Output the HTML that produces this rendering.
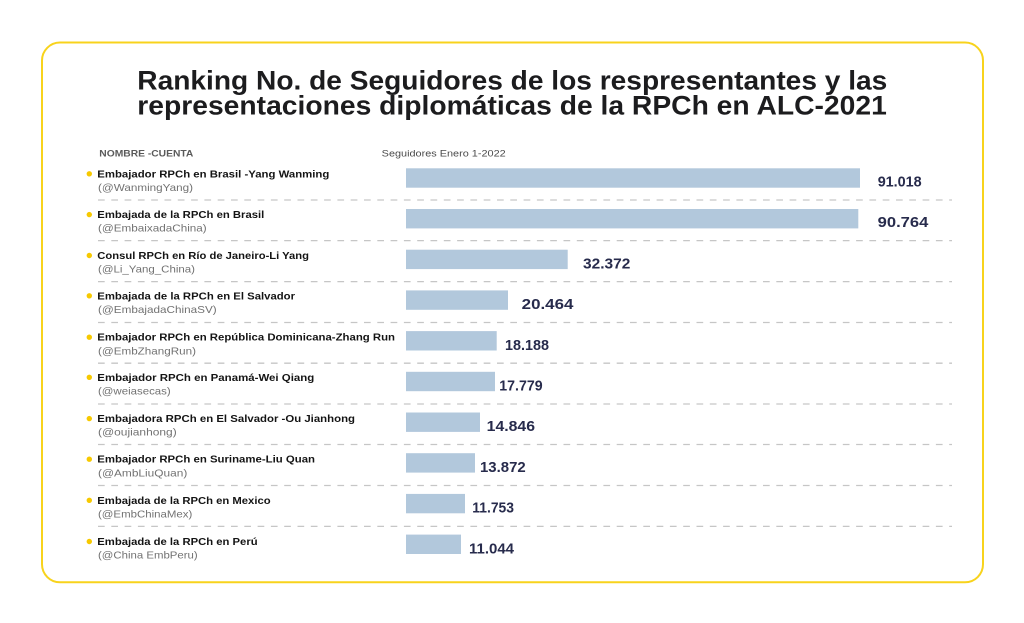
<!DOCTYPE html>
<html>
<head>
<meta charset="utf-8">
<style>
  html,body{margin:0;padding:0;background:#ffffff;}
  body{width:1024px;height:623px;overflow:hidden;}
  svg{display:block;}
  .t{font-family:"Liberation Sans",sans-serif;font-weight:700;fill:#1c1c1e;font-size:27px;}
  .hd{font-family:"Liberation Sans",sans-serif;font-weight:700;fill:#5a5a5a;font-size:9px;}
  .nm{font-family:"Liberation Sans",sans-serif;font-weight:700;fill:#141414;font-size:10.5px;}
  .hl{font-family:"Liberation Sans",sans-serif;font-weight:400;fill:#727272;font-size:10.5px;}
  .v{font-family:"Liberation Sans",sans-serif;font-weight:700;fill:#272b4c;font-size:15px;}
  .bar{fill:#b2c8dc;}
  .dash{stroke:#c6c6c6;stroke-width:1.3;stroke-dasharray:6.7 6.6;}
  .dot{fill:#f7c900;}
</style>
</head>
<body>
<svg width="1024" height="623" viewBox="0 0 1024 623" xmlns="http://www.w3.org/2000/svg">
  <rect x="0" y="0" width="1024" height="623" fill="#ffffff"/>
  <rect x="42" y="42.5" width="941" height="539.8" rx="18" ry="18" fill="#ffffff" stroke="#f8d31c" stroke-width="2"/>

  <!-- Title -->
  <text class="t" x="137.3" y="89.3" textLength="750" lengthAdjust="spacingAndGlyphs">Ranking No. de Seguidores de los respresentantes y las</text>
  <text class="t" x="137.3" y="114.5" textLength="749.5" lengthAdjust="spacingAndGlyphs">representaciones diplomáticas de la RPCh en ALC-2021</text>

  <!-- Headers -->
  <text class="hd" x="99.3" y="156.7" textLength="94" lengthAdjust="spacingAndGlyphs">NOMBRE -CUENTA</text>
  <text class="hd" x="381.7" y="156.7" textLength="124" lengthAdjust="spacingAndGlyphs" style="font-weight:400;fill:#4a4a4a">Seguidores Enero 1-2022</text>

  <!-- Dashed separators -->
  <line class="dash" x1="98" y1="200" x2="952" y2="200"/>
  <line class="dash" x1="98" y1="240.6" x2="952" y2="240.6"/>
  <line class="dash" x1="98" y1="281.6" x2="952" y2="281.6"/>
  <line class="dash" x1="98" y1="322.5" x2="952" y2="322.5"/>
  <line class="dash" x1="98" y1="363.2" x2="952" y2="363.2"/>
  <line class="dash" x1="98" y1="404" x2="952" y2="404"/>
  <line class="dash" x1="98" y1="444.5" x2="952" y2="444.5"/>
  <line class="dash" x1="98" y1="485.5" x2="952" y2="485.5"/>
  <line class="dash" x1="98" y1="526.4" x2="952" y2="526.4"/>

  <!-- Row 0 -->
  <circle class="dot" cx="89.3" cy="173.8" r="2.7"/>
  <text class="nm" x="97.3" y="177.3" textLength="232" lengthAdjust="spacingAndGlyphs">Embajador RPCh en Brasil -Yang Wanming</text>
  <text class="hl" x="98" y="190.9" textLength="95" lengthAdjust="spacingAndGlyphs">(@WanmingYang)</text>
  <rect class="bar" x="406" y="168.3" width="454" height="19.4"/>
  <text class="v" x="877.7" y="186.7" textLength="44" lengthAdjust="spacingAndGlyphs">91.018</text>

  <!-- Row 1 -->
  <circle class="dot" cx="89.3" cy="214.6" r="2.7"/>
  <text class="nm" x="97.3" y="218.1" textLength="167" lengthAdjust="spacingAndGlyphs">Embajada de la RPCh en Brasil</text>
  <text class="hl" x="98" y="231.7" textLength="108.7" lengthAdjust="spacingAndGlyphs">(@EmbaixadaChina)</text>
  <rect class="bar" x="406" y="209" width="452.3" height="19.4"/>
  <text class="v" x="877.7" y="227.2" textLength="50.6" lengthAdjust="spacingAndGlyphs">90.764</text>

  <!-- Row 2 -->
  <circle class="dot" cx="89.3" cy="255.5" r="2.7"/>
  <text class="nm" x="97.3" y="259" textLength="211.7" lengthAdjust="spacingAndGlyphs">Consul RPCh en Río de Janeiro-Li Yang</text>
  <text class="hl" x="98" y="272.6" textLength="97" lengthAdjust="spacingAndGlyphs">(@Li_Yang_China)</text>
  <rect class="bar" x="406" y="249.7" width="161.7" height="19.4"/>
  <text class="v" x="583" y="268.4" textLength="47.3" lengthAdjust="spacingAndGlyphs">32.372</text>

  <!-- Row 3 -->
  <circle class="dot" cx="89.3" cy="295.8" r="2.7"/>
  <text class="nm" x="97.3" y="299.3" textLength="197.7" lengthAdjust="spacingAndGlyphs">Embajada de la RPCh en El Salvador</text>
  <text class="hl" x="98" y="312.9" textLength="118.7" lengthAdjust="spacingAndGlyphs">(@EmbajadaChinaSV)</text>
  <rect class="bar" x="406" y="290.4" width="102" height="19.4"/>
  <text class="v" x="521.7" y="309.1" textLength="51.7" lengthAdjust="spacingAndGlyphs">20.464</text>

  <!-- Row 4 -->
  <circle class="dot" cx="89.3" cy="337.2" r="2.7"/>
  <text class="nm" x="97.3" y="340.7" textLength="297.7" lengthAdjust="spacingAndGlyphs">Embajador RPCh en República Dominicana-Zhang Run</text>
  <text class="hl" x="98" y="354.3" textLength="98" lengthAdjust="spacingAndGlyphs">(@EmbZhangRun)</text>
  <rect class="bar" x="406" y="331.1" width="90.7" height="19.4"/>
  <text class="v" x="505" y="349.8" textLength="44" lengthAdjust="spacingAndGlyphs">18.188</text>

  <!-- Row 5 -->
  <circle class="dot" cx="89.3" cy="377.3" r="2.7"/>
  <text class="nm" x="97.3" y="380.8" textLength="217" lengthAdjust="spacingAndGlyphs">Embajador RPCh en Panamá-Wei Qiang</text>
  <text class="hl" x="98" y="394.4" textLength="72.7" lengthAdjust="spacingAndGlyphs">(@weiasecas)</text>
  <rect class="bar" x="406" y="371.8" width="89" height="19.4"/>
  <text class="v" x="499.3" y="390.5" textLength="43.3" lengthAdjust="spacingAndGlyphs">17.779</text>

  <!-- Row 6 -->
  <circle class="dot" cx="89.3" cy="418.6" r="2.7"/>
  <text class="nm" x="97.3" y="422.1" textLength="257.7" lengthAdjust="spacingAndGlyphs">Embajadora RPCh en El Salvador -Ou Jianhong</text>
  <text class="hl" x="98" y="435.7" textLength="78.7" lengthAdjust="spacingAndGlyphs">(@oujianhong)</text>
  <rect class="bar" x="406" y="412.5" width="74" height="19.4"/>
  <text class="v" x="486.7" y="431.2" textLength="48.3" lengthAdjust="spacingAndGlyphs">14.846</text>

  <!-- Row 7 -->
  <circle class="dot" cx="89.3" cy="459.2" r="2.7"/>
  <text class="nm" x="97.3" y="462.7" textLength="217.7" lengthAdjust="spacingAndGlyphs">Embajador RPCh en Suriname-Liu Quan</text>
  <text class="hl" x="98" y="476.3" textLength="89.3" lengthAdjust="spacingAndGlyphs">(@AmbLiuQuan)</text>
  <rect class="bar" x="406" y="453.2" width="69" height="19.4"/>
  <text class="v" x="480" y="471.9" textLength="45.7" lengthAdjust="spacingAndGlyphs">13.872</text>

  <!-- Row 8 -->
  <circle class="dot" cx="89.3" cy="500.3" r="2.7"/>
  <text class="nm" x="97.3" y="503.8" textLength="173.3" lengthAdjust="spacingAndGlyphs">Embajada de la RPCh en Mexico</text>
  <text class="hl" x="98" y="517.4" textLength="94.3" lengthAdjust="spacingAndGlyphs">(@EmbChinaMex)</text>
  <rect class="bar" x="406" y="493.9" width="59" height="19.4"/>
  <text class="v" x="472.3" y="512.6" textLength="41.7" lengthAdjust="spacingAndGlyphs">11.753</text>

  <!-- Row 9 -->
  <circle class="dot" cx="89.3" cy="541.5" r="2.7"/>
  <text class="nm" x="97.3" y="545" textLength="160.3" lengthAdjust="spacingAndGlyphs">Embajada de la RPCh en Perú</text>
  <text class="hl" x="98" y="558.6" textLength="99.7" lengthAdjust="spacingAndGlyphs">(@China EmbPeru)</text>
  <rect class="bar" x="406" y="534.6" width="55" height="19.4"/>
  <text class="v" x="469" y="553.3" textLength="45" lengthAdjust="spacingAndGlyphs">11.044</text>
</svg>
</body>
</html>
